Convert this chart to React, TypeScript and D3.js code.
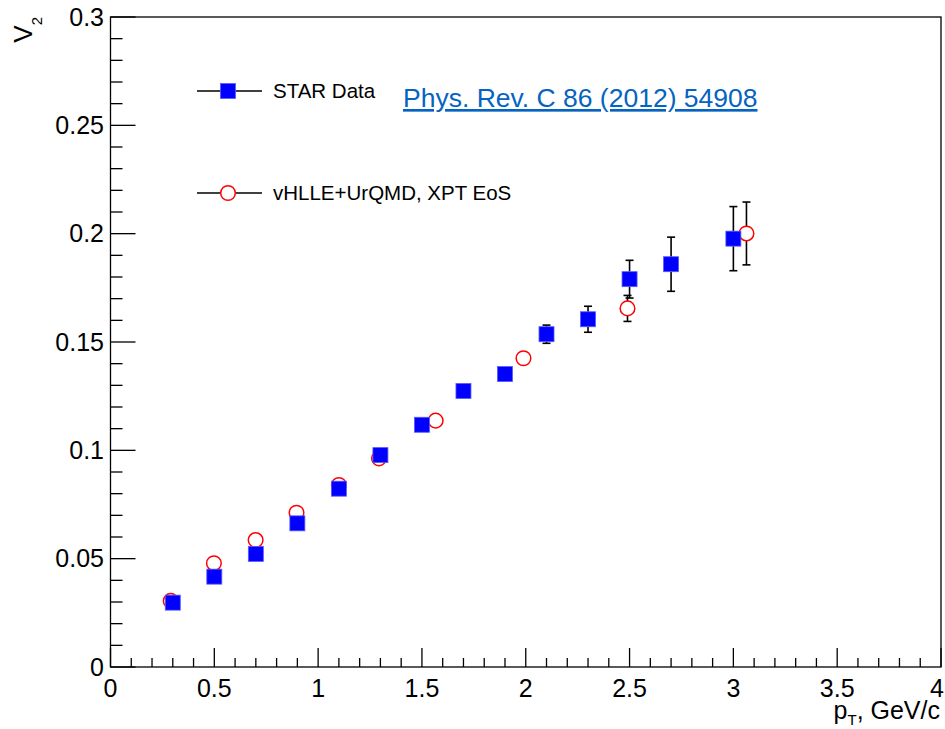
import React from 'react';
import * as d3 from 'd3';

// STAR data (blue squares)
const starPt = [0.3, 0.5, 0.7, 0.9, 1.1, 1.3, 1.5, 1.7, 1.9, 2.1, 2.3, 2.5, 2.7, 3.0];
const starV2 = [0.0297, 0.0417, 0.0522, 0.0663, 0.0823, 0.0978, 0.1118, 0.1274, 0.1352, 0.1536, 0.1605, 0.179, 0.1859, 0.1977];
const starErr = [0.001, 0.001, 0.0012, 0.0013, 0.0015, 0.0017, 0.002, 0.0022, 0.0025, 0.0042, 0.006, 0.0087, 0.0125, 0.0148];

// vHLLE+UrQMD model (red open circles)
const modelPt = [0.29, 0.498, 0.699, 0.896, 1.1, 1.293, 1.566, 1.989, 2.49, 3.063];
const modelV2 = [0.0305, 0.0479, 0.0586, 0.0712, 0.084, 0.0963, 0.1137, 0.1425, 0.1655, 0.2001];
const modelErr = [0.001, 0.0012, 0.0013, 0.0015, 0.0017, 0.002, 0.0023, 0.003, 0.006, 0.0145];

const xTickLabels = ['0', '0.5', '1', '1.5', '2', '2.5', '3', '3.5', '4'];
const yTickLabels = ['0', '0.05', '0.1', '0.15', '0.2', '0.25', '0.3'];

const legendItems = ['STAR Data', 'vHLLE+UrQMD, XPT EoS'];
const linkText = 'Phys. Rev. C 86 (2012) 54908';

const W = 945;
const H = 729;
const font = '"Liberation Sans", Arial, Helvetica, sans-serif';

export default function App() {
  const left = 110.5;
  const right = 941;
  const top = 17;
  const bottom = 667;

  const x = d3.scaleLinear().domain([0, 4]).range([left, right]);
  const y = d3.scaleLinear().domain([0, 0.3]).range([bottom, top]);

  const xMinor = d3.range(0, 41).map((i) => i / 10);
  const yMinor = d3.range(0, 31).map((i) => i / 100);

  const star = starPt.map((p, i) => ({ p, v: starV2[i], e: starErr[i] }));
  const model = modelPt.map((p, i) => ({ p, v: modelV2[i], e: modelErr[i] }));

  const sq = 15;
  const rad = 7.3;
  const cap = 4;

  // ROOT style: error bars stop at the marker edge
  const errBar = (d: { p: number; v: number; e: number }, key: string, half: number) => {
    const cx = x(d.p);
    const cy = y(d.v);
    const yt = y(d.v + d.e);
    const yb = y(d.v - d.e);
    if (cy - yt <= half) return null;
    return (
      <g key={key} stroke="#000" strokeWidth={1.6}>
        <line x1={cx} x2={cx} y1={yt} y2={cy - half} />
        <line x1={cx} x2={cx} y1={cy + half} y2={yb} />
        <line x1={cx - cap} x2={cx + cap} y1={yt} y2={yt} />
        <line x1={cx - cap} x2={cx + cap} y1={yb} y2={yb} />
      </g>
    );
  };

  return (
    <svg
      width={W}
      height={H}
      style={{ position: 'absolute', left: 0, top: 0, background: '#fff' }}
      fontFamily={font}
    >
      <rect x={0} y={0} width={W} height={H} fill="#fff" />

      {/* frame */}
      <rect x={left} y={top} width={right - left} height={bottom - top} fill="none" stroke="#000" strokeWidth={1.3} />

      {/* x ticks */}
      <g stroke="#000" strokeWidth={1.3}>
        {xMinor.map((t, i) => (
          <line key={i} x1={x(t)} x2={x(t)} y1={bottom} y2={bottom - (i % 5 === 0 ? 19 : 9)} />
        ))}
      </g>
      {/* y ticks */}
      <g stroke="#000" strokeWidth={1.3}>
        {yMinor.map((t, i) => (
          <line key={i} x1={left} x2={left + (i % 5 === 0 ? 25 : 12)} y1={y(t)} y2={y(t)} />
        ))}
      </g>

      {/* tick labels */}
      <g fontSize={25} fill="#000" textAnchor="middle">
        {xTickLabels.map((l) => (
          <text key={l} x={Math.min(x(+l), 937)} y={697}>{l}</text>
        ))}
      </g>
      <g fontSize={25} fill="#000" textAnchor="end">
        {yTickLabels.map((l) => (
          <text key={l} x={104} y={y(+l)} dy="0.35em">{l}</text>
        ))}
      </g>

      {/* axis titles */}
      <text x={940} y={719} fontSize={25} textAnchor="end" fill="#000">
        <tspan>p</tspan>
        <tspan fontSize={15} dy={6}>T</tspan>
        <tspan dy={-6}>, GeV/c</tspan>
      </text>
      <text transform={`translate(32,17) rotate(-90)`} fontSize={26} textAnchor="end" fill="#000">
        <tspan>V</tspan>
        <tspan fontSize={15} dy={10}>2</tspan>
      </text>

      {/* model error bars and markers */}
      {model.map((d, i) => errBar(d, 'me' + i, rad))}
      {model.map((d, i) => (
        <circle key={'m' + i} cx={x(d.p)} cy={y(d.v)} r={rad} fill="none" stroke="#ff0000" strokeWidth={1.5} />
      ))}

      {/* STAR error bars and markers */}
      {star.map((d, i) => errBar(d, 'se' + i, sq / 2))}
      {star.map((d, i) => (
        <rect key={'s' + i} x={x(d.p) - sq / 2} y={y(d.v) - sq / 2} width={sq} height={sq} fill="#0000ff" stroke="#5a5aff" strokeWidth={0.8} />
      ))}

      {/* legend */}
      {legendItems.map((label, i) => {
        const ly = i === 0 ? 91 : 193;
        return (
          <g key={label}>
            <line x1={197} x2={262} y1={ly} y2={ly} stroke="#000" strokeWidth={1.3} />
            {i === 0 ? (
              <rect x={228 - sq / 2} y={ly - sq / 2} width={sq} height={sq} fill="#0000ff" stroke="#5a5aff" strokeWidth={0.8} />
            ) : (
              <circle cx={228} cy={ly} r={rad} fill="#fff" stroke="#ff0000" strokeWidth={1.5} />
            )}
            <text x={273} y={ly} dy="0.36em" fontSize={20.5} fill="#000">{label}</text>
          </g>
        );
      })}

      {/* reference link */}
      <text x={403} y={107} fontSize={26.5} fill="#0563C1" textDecoration="underline">{linkText}</text>
    </svg>
  );
}
